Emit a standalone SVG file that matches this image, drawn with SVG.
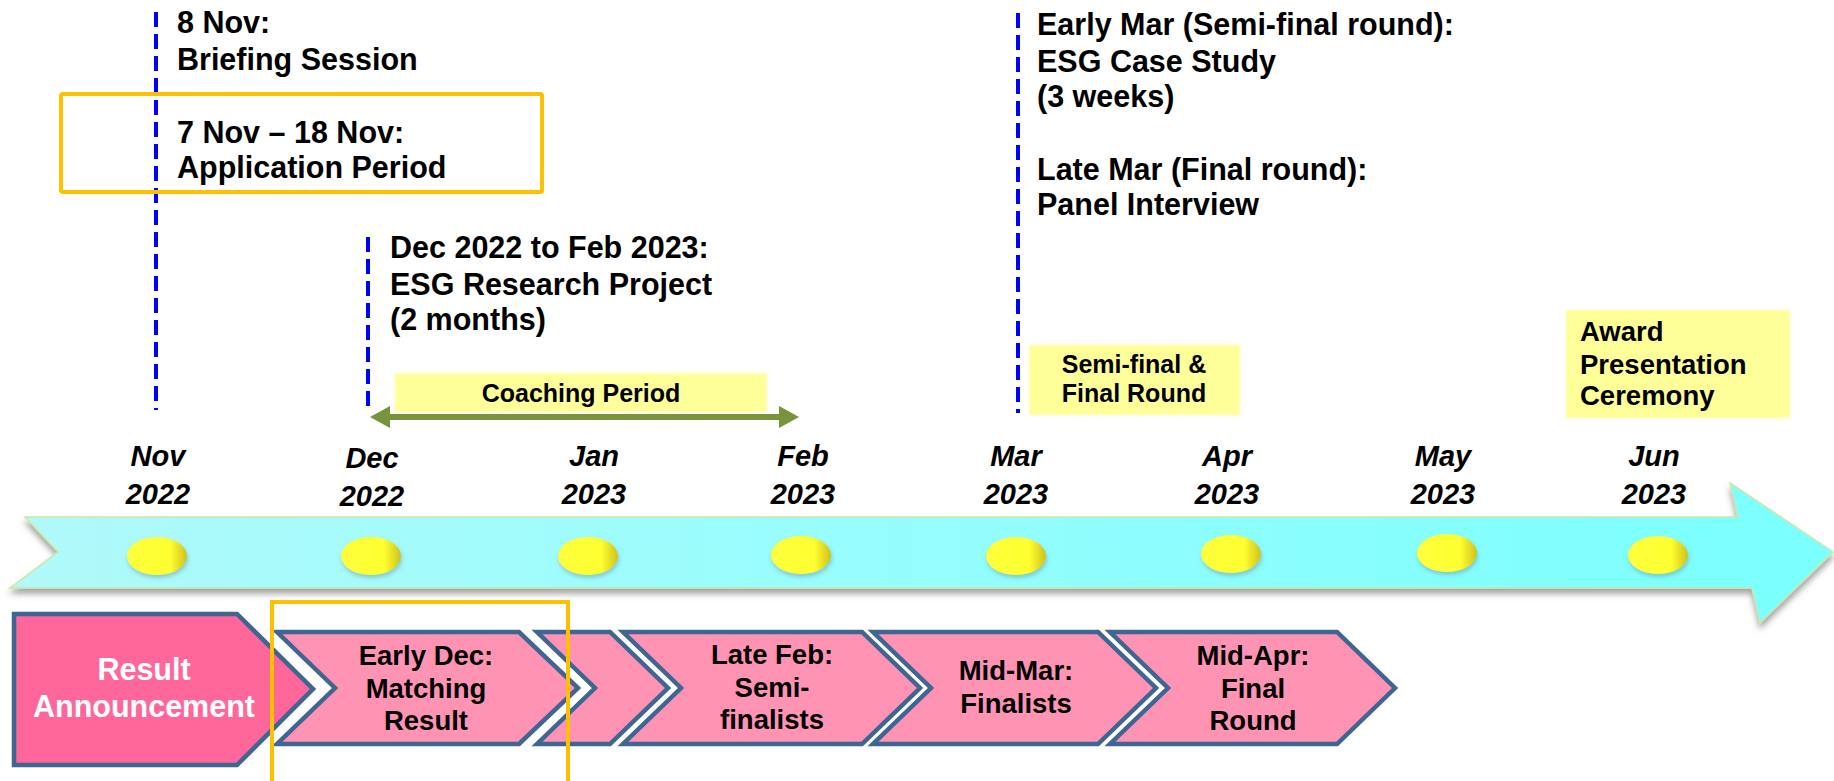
<svg xmlns="http://www.w3.org/2000/svg" width="1834" height="781" viewBox="0 0 1834 781">
  <style>
    text { font-family: "Liberation Sans", Arial, sans-serif; font-weight: bold; fill: #000; }
    .top { font-size: 30.5px; }
    .month { font-size: 29px; font-style: italic; text-anchor: middle; }
    .label { font-size: 25px; text-anchor: middle; }
    .chev-text { font-size: 27.5px; text-anchor: middle; }
    .award { font-size: 27.5px; }
    .white { fill: #fff; }
    .vdash { stroke: #0000FF; stroke-width: 4; stroke-dasharray: 15 7; fill: none; }
    .hl { fill: none; stroke: #FFC000; stroke-width: 4; }
    .ybox { fill: #FFFF99; filter: url(#soft); }
    .chev { fill: #FF93B4; stroke: #3F6592; stroke-width: 4.5; stroke-linejoin: miter; }
    .chev-dark { fill: #FF6699; stroke: #3F6592; stroke-width: 4.5; }
    .dot { fill: url(#dotGrad); filter: url(#dotShadow); }
  </style>
  <defs>
    <linearGradient id="bandGrad" x1="0" y1="0" x2="1" y2="0">
      <stop offset="0" stop-color="#B0F9FA"/>
      <stop offset="0.5" stop-color="#95FDFD"/>
      <stop offset="1" stop-color="#7AFFFF"/>
    </linearGradient>
    <linearGradient id="dotGrad" x1="0" y1="0" x2="1" y2="0">
      <stop offset="0" stop-color="#FFFF3C"/>
      <stop offset="0.72" stop-color="#FFFF30"/>
      <stop offset="1" stop-color="#CFC21C"/>
    </linearGradient>
    <filter id="bandShadow" x="-5%" y="-20%" width="110%" height="150%">
      <feDropShadow dx="0" dy="5" stdDeviation="3" flood-color="#666" flood-opacity="0.6"/>
    </filter>
    <filter id="dotShadow" x="-30%" y="-30%" width="160%" height="170%">
      <feDropShadow dx="1" dy="3" stdDeviation="2" flood-color="#6a9a9a" flood-opacity="0.5"/>
    </filter>
    <filter id="soft" x="-5%" y="-10%" width="110%" height="120%">
      <feGaussianBlur stdDeviation="1"/>
    </filter>
    <marker id="greenHead" viewBox="0 0 20 22" markerUnits="userSpaceOnUse" markerWidth="20" markerHeight="22" refX="1" refY="11" orient="auto-start-reverse">
      <path d="M0,0 L20,11 L0,22 z" fill="#77933C"/>
    </marker>
  </defs>

  <!-- timeline band -->
  <g id="timeline">
    <polygon points="25,517 1738,517 1730,483 1833,552 1760,623 1752,588 10,588 58,552" fill="url(#bandGrad)" stroke="#CFE6A6" stroke-width="1.5" filter="url(#bandShadow)"/>
    <ellipse class="dot" cx="157" cy="556" rx="30" ry="19"/>
    <ellipse class="dot" cx="371" cy="556" rx="30" ry="19"/>
    <ellipse class="dot" cx="588" cy="556" rx="30" ry="19"/>
    <ellipse class="dot" cx="801" cy="555" rx="30" ry="19"/>
    <ellipse class="dot" cx="1016" cy="556" rx="30" ry="19"/>
    <ellipse class="dot" cx="1231" cy="554" rx="30" ry="19"/>
    <ellipse class="dot" cx="1447" cy="553" rx="30" ry="19"/>
    <ellipse class="dot" cx="1658" cy="555" rx="30" ry="19"/>
  </g>

  <!-- month labels -->
  <g id="months">
    <text class="month" x="158" y="466">Nov</text><text class="month" x="158" y="504">2022</text>
    <text class="month" x="372" y="468">Dec</text><text class="month" x="372" y="506">2022</text>
    <text class="month" x="594" y="466">Jan</text><text class="month" x="594" y="504">2023</text>
    <text class="month" x="803" y="466">Feb</text><text class="month" x="803" y="504">2023</text>
    <text class="month" x="1016" y="466">Mar</text><text class="month" x="1016" y="504">2023</text>
    <text class="month" x="1227" y="466">Apr</text><text class="month" x="1227" y="504">2023</text>
    <text class="month" x="1443" y="466">May</text><text class="month" x="1443" y="504">2023</text>
    <text class="month" x="1654" y="466">Jun</text><text class="month" x="1654" y="504">2023</text>
  </g>

  <!-- connectors -->
  <g id="connectors">
    <line class="vdash" x1="156" y1="12" x2="156" y2="410"/>
    <line class="vdash" x1="368" y1="237" x2="368" y2="412"/>
    <line class="vdash" x1="1018" y1="13" x2="1018" y2="413"/>
    <line x1="389" y1="417" x2="780" y2="417" stroke="#77933C" stroke-width="6" marker-start="url(#greenHead)" marker-end="url(#greenHead)"/>
  </g>

  <!-- top annotations -->
  <g id="briefing">
    <text class="top" x="177" y="33">8 Nov:</text>
    <text class="top" x="177" y="70">Briefing Session</text>
  </g>
  <g id="application">
    <rect class="hl" x="61" y="94" width="481" height="98" rx="2"/>
    <text class="top" x="177" y="143">7 Nov – 18 Nov:</text>
    <text class="top" x="177" y="178">Application Period</text>
  </g>
  <g id="research">
    <text class="top" x="390" y="258">Dec 2022 to Feb 2023:</text>
    <text class="top" x="390" y="295">ESG Research Project</text>
    <text class="top" x="390" y="330">(2 months)</text>
  </g>
  <g id="coaching">
    <rect class="ybox" x="395" y="373" width="372" height="39"/>
    <text class="label" x="581" y="402">Coaching Period</text>
  </g>
  <g id="semifinal-text">
    <text class="top" x="1037" y="35">Early Mar (Semi-final round):</text>
    <text class="top" x="1037" y="72">ESG Case Study</text>
    <text class="top" x="1037" y="107">(3 weeks)</text>
    <text class="top" x="1037" y="180">Late Mar (Final round):</text>
    <text class="top" x="1037" y="215">Panel Interview</text>
  </g>
  <g id="semifinal-box">
    <rect class="ybox" x="1029" y="345" width="211" height="70"/>
    <text class="label" x="1134" y="373">Semi-final &amp;</text>
    <text class="label" x="1134" y="402">Final Round</text>
  </g>
  <g id="award">
    <rect class="ybox" x="1566" y="310" width="224" height="108"/>
    <text class="award" x="1580" y="341">Award</text>
    <text class="award" x="1580" y="374">Presentation</text>
    <text class="award" x="1580" y="405">Ceremony</text>
  </g>

  <!-- chevron row -->
  <g id="result-announcement">
    <polygon class="chev-dark" points="14,614 237,614 313,689 237,765 14,765"/>
    <text class="top white" x="144" y="680" text-anchor="middle">Result</text>
    <text class="top white" x="144" y="717" text-anchor="middle">Announcement</text>
  </g>
  <g id="matching-result">
    <polygon class="chev" points="277,632 519,632 578,688 519,744 277,744 335,688"/>
    <text class="chev-text" x="426" y="665">Early Dec:</text>
    <text class="chev-text" x="426" y="698">Matching</text>
    <text class="chev-text" x="426" y="730">Result</text>
  </g>
  <g id="jan-step">
    <polygon class="chev" points="537,632 610,632 668,688 610,744 537,744 595,688"/>
  </g>
  <g id="semi-finalists">
    <polygon class="chev" points="623,632 862,632 920,688 862,744 623,744 681,688"/>
    <text class="chev-text" x="772" y="664">Late Feb:</text>
    <text class="chev-text" x="772" y="697">Semi-</text>
    <text class="chev-text" x="772" y="729">finalists</text>
  </g>
  <g id="finalists">
    <polygon class="chev" points="873,632 1098,632 1156,688 1098,744 873,744 931,688"/>
    <text class="chev-text" x="1016" y="680">Mid-Mar:</text>
    <text class="chev-text" x="1016" y="713">Finalists</text>
  </g>
  <g id="final-round">
    <polygon class="chev" points="1110,632 1337,632 1395,688 1337,744 1110,744 1168,688"/>
    <text class="chev-text" x="1253" y="665">Mid-Apr:</text>
    <text class="chev-text" x="1253" y="698">Final</text>
    <text class="chev-text" x="1253" y="730">Round</text>
  </g>
  <g id="matching-highlight">
    <rect class="hl" x="272" y="602" width="296" height="200"/>
  </g>
</svg>
